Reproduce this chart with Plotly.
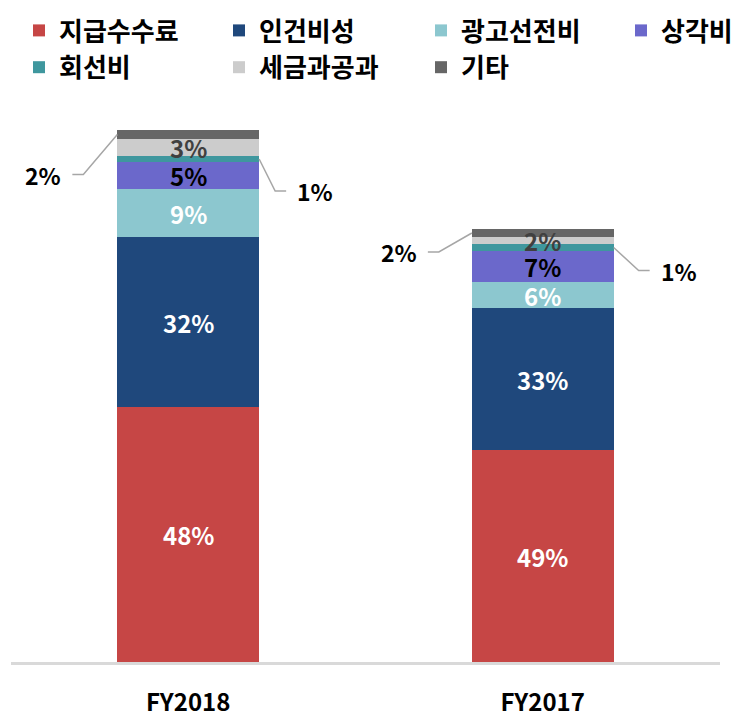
import plotly.graph_objects as go

# ---------------- data ----------------
categories = ["FY2018", "FY2017"]
series_names = ["지급수수료", "인건비성", "광고선전비", "상각비", "회선비", "세금과공과", "기타"]

fee_values = [255, 212]        # 지급수수료
labor_values = [170, 142]      # 인건비성
ad_values = [48, 26]           # 광고선전비
depr_values = [27, 31]         # 상각비
line_values = [6, 7]           # 회선비
tax_values = [17, 7]           # 세금과공과
etc_values = [9, 8]            # 기타

fee_pct = ["48%", "49%"]
labor_pct = ["32%", "33%"]
ad_pct = ["9%", "6%"]
depr_pct = ["5%", "7%"]
line_pct = ["1%", "1%"]
tax_pct = ["3%", "2%"]
etc_pct = ["2%", "2%"]

# ---------------- styles ----------------
colors = ["#C64645", "#1F487C", "#8CC7CF", "#6B68CB", "#3F979E", "#CCCCCC", "#666666"]
label_colors = ["white", "white", "white", "black", None, "#404040", None]
legend_ids = ["legend", "legend2", "legend3", "legend4", "legend", "legend2", "legend3"]

FONT = "Noto Sans CJK KR, Noto Sans, sans-serif"
# the page body adds an 8px margin, so the figure is 8px smaller than the window
W, H = 732, 708
M_L, M_R, M_T, M_B = 3, 20, 92, 54
X_RANGE = [-0.5, 1.5]
Y_RANGE = [0, H - M_T - M_B]
BAR_W = 0.4
PLOT_W = W - M_L - M_R
PLOT_H = H - M_T - M_B
PX_X = PLOT_W / (X_RANGE[1] - X_RANGE[0])
PX_Y = PLOT_H / (Y_RANGE[1] - Y_RANGE[0])

all_values = [fee_values, labor_values, ad_values, depr_values, line_values, tax_values, etc_values]
all_pcts = [fee_pct, labor_pct, ad_pct, depr_pct, line_pct, tax_pct, etc_pct]
xs = list(range(len(categories)))

fig = go.Figure()
for name, vals, col, lid in zip(series_names, all_values, colors, legend_ids):
    fig.add_trace(go.Bar(
        x=xs, y=vals, name=name, marker=dict(color=col, line=dict(width=0)),
        width=BAR_W, legend=lid, legendgroup=name, hoverinfo="skip",
    ))

annotations = []
shapes = []
# inside labels
for si, (vals, pcts, lc) in enumerate(zip(all_values, all_pcts, label_colors)):
    if lc is None:
        continue
    for ci in range(len(categories)):
        base = sum(all_values[k][ci] for k in range(si))
        annotations.append(dict(
            x=xs[ci], y=base + vals[ci] / 2, text=pcts[ci], showarrow=False,
            xref="x", yref="y", yanchor="middle", xanchor="center",
            font=dict(family=FONT, size=24, color=lc, weight="bold"),
        ))

# outside labels with leader lines: (series index -> side, per-category elbow offset in px)
leaders = {
    6: ("left", [(-34, 40), (-33, 19)]),
    4: ("right", [(16, 32), (25, 23)]),
}
for si, (side, offs) in leaders.items():
    for ci in range(len(categories)):
        base = sum(all_values[k][ci] for k in range(si))
        y0 = base + all_values[si][ci] / 2
        sign = -1 if side == "left" else 1
        x0 = xs[ci] + sign * BAR_W / 2
        dx, dy = offs[ci]
        x1 = x0 + dx / PX_X
        y1 = y0 - dy / PX_Y
        x2 = x1 + sign * 11 / PX_X
        shapes.append(dict(
            type="path", xref="x", yref="y",
            path=f"M {x0:.5f} {y0:.3f} L {x1:.5f} {y1:.3f} L {x2:.5f} {y1:.3f}",
            line=dict(color="#A6A6A6", width=1.5),
        ))
        annotations.append(dict(
            x=x2 + sign * 9 / PX_X, y=y1, text=all_pcts[si][ci], showarrow=False,
            xref="x", yref="y", yanchor="middle",
            xanchor="right" if side == "left" else "left",
            font=dict(family=FONT, size=23, color="black", weight="bold"),
        ))

# legend columns (figure px of legend box left edge) and top (figure px)
legend_left_px = [11, 211, 413, 613]
legend_top_px = -1
legend_common = dict(
    xref="paper", yref="paper", xanchor="left", yanchor="top",
    orientation="v", traceorder="normal", bgcolor="rgba(0,0,0,0)",
    font=dict(family=FONT, size=26, color="black", weight="bold"),
    tracegroupgap=6, itemclick=False, itemdoubleclick=False,
)
legend_layouts = {}
for i, lx in enumerate(legend_left_px):
    key = "legend" if i == 0 else f"legend{i + 1}"
    legend_layouts[key] = dict(
        x=(lx - M_L) / PLOT_W, y=1 + (M_T - legend_top_px) / PLOT_H, **legend_common
    )

fig.update_layout(
    width=W, height=H,
    margin=dict(l=M_L, r=M_R, t=M_T, b=M_B, autoexpand=False),
    barmode="stack",
    plot_bgcolor="white", paper_bgcolor="white",
    showlegend=True,
    annotations=annotations,
    shapes=shapes,
    xaxis=dict(
        range=X_RANGE, tickvals=xs, ticktext=categories, showgrid=False, zeroline=False,
        showline=True, linecolor="#D9D9D9", linewidth=3, ticks="", ticklabelstandoff=17,
        tickfont=dict(family=FONT, size=24, color="black", weight="bold"), fixedrange=True,
    ),
    yaxis=dict(range=Y_RANGE, visible=False, showgrid=False, zeroline=False, fixedrange=True),
    **legend_layouts,
)

fig.write_html("out.html")
